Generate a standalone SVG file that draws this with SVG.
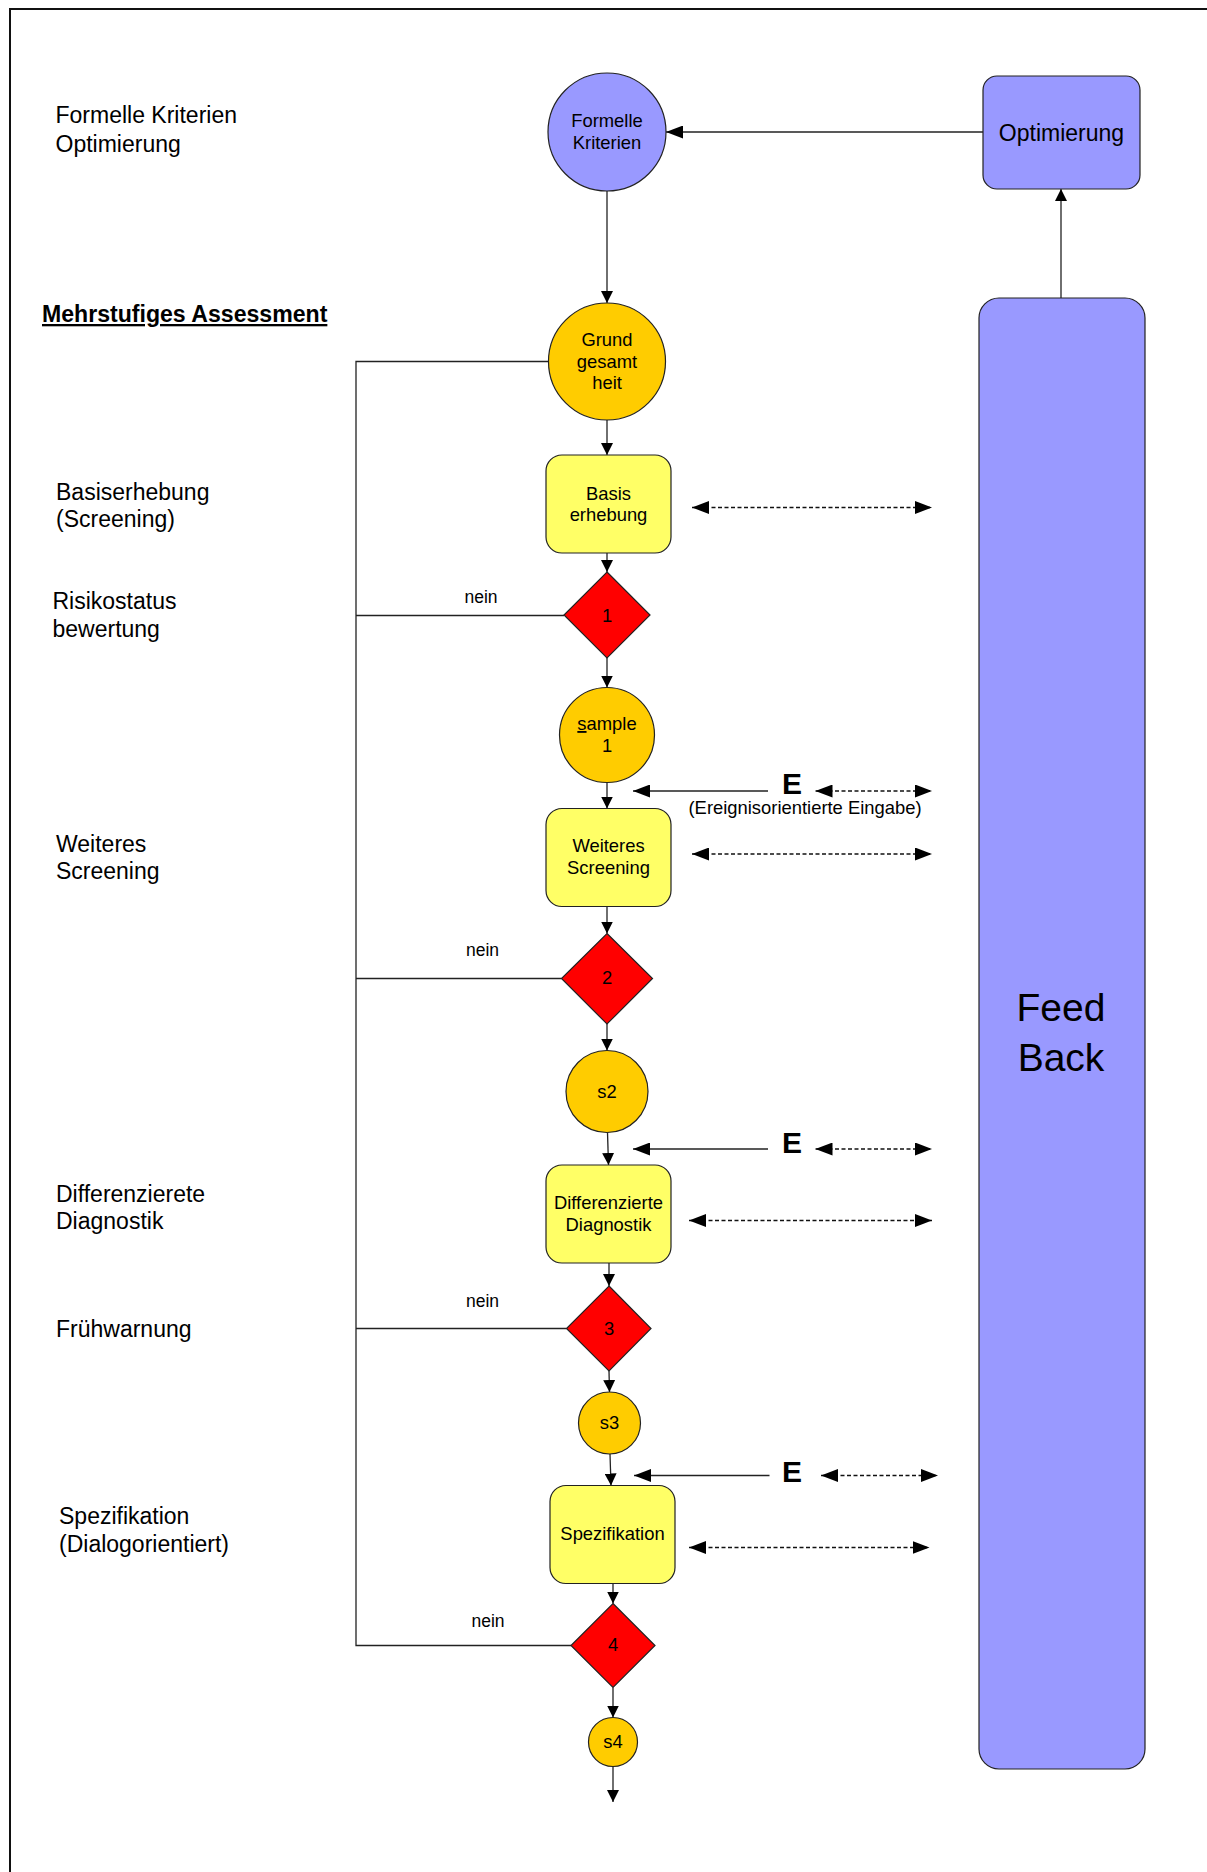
<svg xmlns="http://www.w3.org/2000/svg" width="1207" height="1872" viewBox="0 0 1207 1872">
<style>
text{font-family:"Liberation Sans",Arial,sans-serif;fill:#000}
.lbl{font-size:23px}
.nt{font-size:18.4px;text-anchor:middle}
.nein{font-size:17.5px;text-anchor:middle}
.ebig{font-size:30px;font-weight:bold}
.purple{fill:#9999FF;stroke:#222;stroke-width:1.2}
.gold{fill:#FFCC00;stroke:#222;stroke-width:1.2}
.yel{fill:#FFFF66;stroke:#222;stroke-width:1.2}
.red{fill:#FF0000;stroke:#222;stroke-width:1.2}
.ln{fill:none;stroke:#222;stroke-width:1.3}
.dash{fill:none;stroke:#111;stroke-width:1.4;stroke-dasharray:4 2.5}
</style>
<defs>
<marker id="a" markerUnits="userSpaceOnUse" markerWidth="12" markerHeight="12" viewBox="0 0 12 12" refX="12" refY="6" orient="auto">
<path d="M0,0 L12,6 L0,12 z" fill="#000"/>
</marker>
<marker id="b" markerUnits="userSpaceOnUse" markerWidth="17" markerHeight="13" viewBox="0 0 17 13" refX="17" refY="6.5" orient="auto-start-reverse">
<path d="M0,0 L17,6.5 L0,13 z" fill="#000"/>
</marker>
</defs>
<rect width="1207" height="1872" fill="#fff"/>
<path d="M10,1872 V9 H1207" fill="none" stroke="#111" stroke-width="2"/>

<g id="labels">
<text class="lbl" x="55.5" y="123">Formelle Kriterien</text>
<text class="lbl" x="55.5" y="151.5">Optimierung</text>
<text x="42" y="322" style="font-size:23.1px;font-weight:bold;text-decoration:underline">Mehrstufiges Assessment</text>
<text class="lbl" x="56" y="499.5">Basiserhebung</text>
<text class="lbl" x="56" y="527">(Screening)</text>
<text class="lbl" x="52.5" y="609">Risikostatus</text>
<text class="lbl" x="52.5" y="637">bewertung</text>
<text class="lbl" x="56" y="851.5">Weiteres</text>
<text class="lbl" x="56" y="879">Screening</text>
<text class="lbl" x="56" y="1202">Differenzierete</text>
<text class="lbl" x="56" y="1229">Diagnostik</text>
<text class="lbl" x="56" y="1336.5">Frühwarnung</text>
<text class="lbl" x="59" y="1524">Spezifikation</text>
<text class="lbl" x="59" y="1552">(Dialogorientiert)</text>
</g>

<g id="connectors">
<line class="ln" x1="983" y1="132" x2="666" y2="132" marker-end="url(#b)"/>
<line class="ln" x1="1061" y1="298" x2="1061" y2="189" marker-end="url(#a)"/>
<line class="ln" x1="607" y1="191" x2="607" y2="303" marker-end="url(#a)"/>
<line class="ln" x1="607" y1="420" x2="607" y2="455" marker-end="url(#a)"/>
<line class="ln" x1="607" y1="553" x2="607" y2="572" marker-end="url(#a)"/>
<line class="ln" x1="607" y1="658" x2="607" y2="687.5" marker-end="url(#a)"/>
<line class="ln" x1="607" y1="782.5" x2="607" y2="808.5" marker-end="url(#a)"/>
<line class="ln" x1="607" y1="906.5" x2="607" y2="933.5" marker-end="url(#a)"/>
<line class="ln" x1="607" y1="1024" x2="607" y2="1050.5" marker-end="url(#a)"/>
<line class="ln" x1="607.5" y1="1132.5" x2="608.5" y2="1165" marker-end="url(#a)"/>
<line class="ln" x1="609" y1="1263" x2="609" y2="1286" marker-end="url(#a)"/>
<line class="ln" x1="609" y1="1371" x2="609.5" y2="1392" marker-end="url(#a)"/>
<line class="ln" x1="610" y1="1454" x2="611" y2="1485.5" marker-end="url(#a)"/>
<line class="ln" x1="613" y1="1583.5" x2="613" y2="1603.5" marker-end="url(#a)"/>
<line class="ln" x1="613" y1="1687.5" x2="613" y2="1717.5" marker-end="url(#a)"/>
<line class="ln" x1="613" y1="1766.5" x2="613" y2="1802" marker-end="url(#a)"/>
<path class="ln" d="M548.5,361.5 H356 V1645.5 H571"/>
<line class="ln" x1="356" y1="615.5" x2="564" y2="615.5"/>
<line class="ln" x1="356" y1="978.5" x2="561.5" y2="978.5"/>
<line class="ln" x1="356" y1="1328.5" x2="566.5" y2="1328.5"/>
<text class="nein" x="481" y="603">nein</text>
<text class="nein" x="482.5" y="955.5">nein</text>
<text class="nein" x="482.5" y="1307">nein</text>
<text class="nein" x="488" y="1627">nein</text>
<line class="ln" x1="768" y1="791" x2="633" y2="791" marker-end="url(#b)"/>
<line class="ln" x1="768" y1="1149" x2="633" y2="1149" marker-end="url(#b)"/>
<line class="ln" x1="769.5" y1="1475.5" x2="634" y2="1475.5" marker-end="url(#b)"/>
<text class="ebig" x="782" y="793.5">E</text>
<text class="ebig" x="782" y="1152.5">E</text>
<text class="ebig" x="782" y="1481.5">E</text>
<text x="688.5" y="814" style="font-size:18.4px">(Ereignisorientierte Eingabe)</text>
<line class="dash" x1="815.5" y1="791" x2="932" y2="791" marker-start="url(#b)" marker-end="url(#b)"/>
<line class="dash" x1="815.5" y1="1149" x2="932" y2="1149" marker-start="url(#b)" marker-end="url(#b)"/>
<line class="dash" x1="821" y1="1475.5" x2="938" y2="1475.5" marker-start="url(#b)" marker-end="url(#b)"/>
<line class="dash" x1="692" y1="507.5" x2="932" y2="507.5" marker-start="url(#b)" marker-end="url(#b)"/>
<line class="dash" x1="692" y1="854" x2="932" y2="854" marker-start="url(#b)" marker-end="url(#b)"/>
<line class="dash" x1="689" y1="1220.5" x2="932" y2="1220.5" marker-start="url(#b)" marker-end="url(#b)"/>
<line class="dash" x1="689" y1="1547.5" x2="929.5" y2="1547.5" marker-start="url(#b)" marker-end="url(#b)"/>
</g>

<g id="formelle-kriterien">
<circle class="purple" cx="607" cy="132" r="59"/>
<text class="nt" x="607" y="126.5">Formelle</text>
<text class="nt" x="607" y="148.5">Kriterien</text>
</g>
<g id="optimierung">
<rect class="purple" x="983" y="76" width="157" height="113" rx="14"/>
<text x="1061.5" y="141" style="font-size:23px;text-anchor:middle">Optimierung</text>
</g>
<g id="feed-back">
<rect class="purple" x="979" y="298" width="166" height="1471" rx="20"/>
<text x="1061" y="1021" style="font-size:39px;text-anchor:middle">Feed</text>
<text x="1061" y="1071" style="font-size:39px;text-anchor:middle">Back</text>
</g>
<g id="grundgesamtheit">
<circle class="gold" cx="607" cy="361.5" r="58.5"/>
<text class="nt" x="607" y="346">Grund</text>
<text class="nt" x="607" y="367.5">gesamt</text>
<text class="nt" x="607" y="389">heit</text>
</g>
<g id="basiserhebung">
<rect class="yel" x="546" y="455" width="125" height="98" rx="16"/>
<text class="nt" x="608.5" y="499.5">Basis</text>
<text class="nt" x="608.5" y="521">erhebung</text>
</g>
<g id="d1">
<path class="red" d="M607,572 L650,615 L607,658 L564,615 z"/>
<text class="nt" x="607" y="621.5">1</text>
</g>
<g id="sample1">
<circle class="gold" cx="607" cy="735" r="47.5"/>
<text class="nt" x="607" y="730"><tspan style="text-decoration:underline">s</tspan>ample</text>
<text class="nt" x="607" y="752">1</text>
</g>
<g id="weiteres-screening">
<rect class="yel" x="546" y="808.5" width="125" height="98" rx="16"/>
<text class="nt" x="608.5" y="852">Weiteres</text>
<text class="nt" x="608.5" y="873.5">Screening</text>
</g>
<g id="d2">
<path class="red" d="M607,933.5 L652.5,978.5 L607,1024 L561.5,978.5 z"/>
<text class="nt" x="607" y="984">2</text>
</g>
<g id="s2">
<circle class="gold" cx="607" cy="1091.5" r="41"/>
<text class="nt" x="607" y="1097.5">s2</text>
</g>
<g id="differenzierte-diagnostik">
<rect class="yel" x="546" y="1165" width="125" height="98" rx="16"/>
<text class="nt" x="608.5" y="1209">Differenzierte</text>
<text class="nt" x="608.5" y="1230.5">Diagnostik</text>
</g>
<g id="d3">
<path class="red" d="M609,1286 L651,1328.5 L609,1371 L566.5,1328.5 z"/>
<text class="nt" x="609" y="1334.5">3</text>
</g>
<g id="s3">
<circle class="gold" cx="609.5" cy="1423" r="31"/>
<text class="nt" x="609.5" y="1429">s3</text>
</g>
<g id="spezifikation">
<rect class="yel" x="550" y="1485.5" width="125" height="98" rx="16"/>
<text class="nt" x="612.5" y="1540">Spezifikation</text>
</g>
<g id="d4">
<path class="red" d="M613,1603.5 L655,1645.5 L613,1687.5 L571,1645.5 z"/>
<text class="nt" x="613" y="1651">4</text>
</g>
<g id="s4">
<circle class="gold" cx="613" cy="1742" r="24.5"/>
<text class="nt" x="613" y="1748">s4</text>
</g>
</svg>
